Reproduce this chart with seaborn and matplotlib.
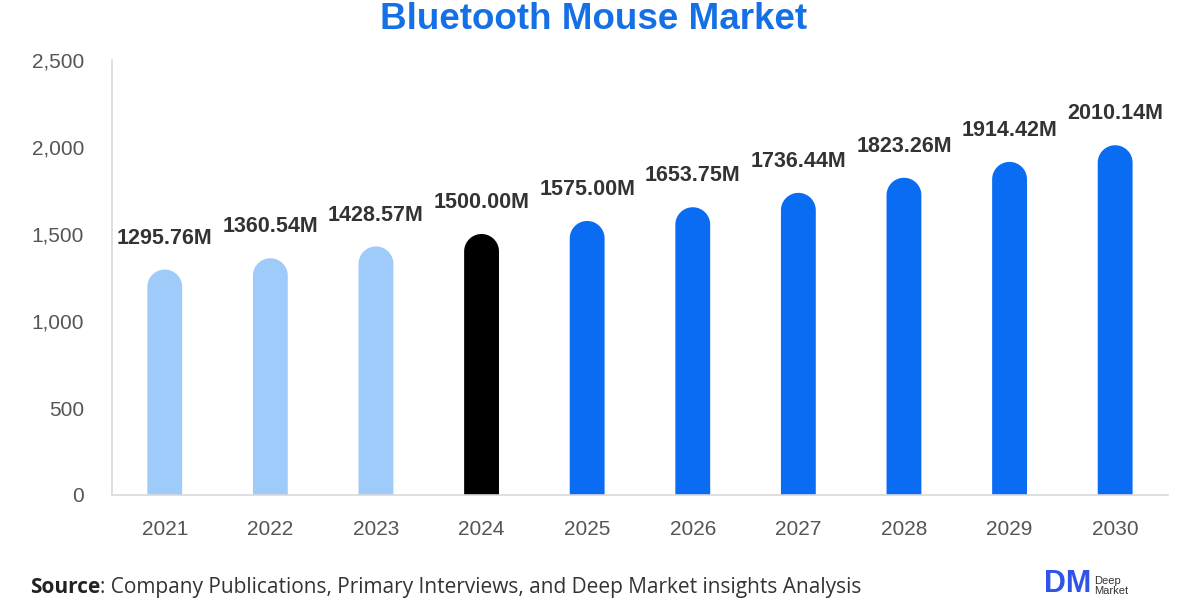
import numpy as np
import pandas as pd
import matplotlib
matplotlib.use("Agg")
import matplotlib.pyplot as plt
from matplotlib.patches import Polygon
from matplotlib.ticker import FuncFormatter
import seaborn as sns

# ---- data ----
years = ["2021", "2022", "2023", "2024", "2025", "2026", "2027", "2028", "2029", "2030"]
values = [1295.76, 1360.54, 1428.57, 1500.00, 1575.00, 1653.75, 1736.44, 1823.26, 1914.42, 2010.14]
value_labels = [f"{v:.2f}M" for v in values]

title = "Bluetooth Mouse Market"
source_head = "Source"
source_rest = ": Company Publications, Primary Interviews, and Deep Market insights Analysis"

# ---- style ----
light_blue = "#9FCBFA"
base_black = "#000000"
blue = "#0A6CF2"
bar_colors = [light_blue] * 3 + [base_black] + [blue] * 6

df = pd.DataFrame({"year": years, "value": values})

sns.set_style("white")
plt.rcParams["font.family"] = ["Liberation Sans", "DejaVu Sans"]

fig = plt.figure(figsize=(12, 6), dpi=100)
ax = fig.add_axes([0.0933, 0.175, 0.88, 0.725])

sns.barplot(data=df, x="year", y="value", hue="year", palette=bar_colors,
            width=0.33, legend=False, ax=ax, saturation=1)

ax.set_xlim(-0.5, len(years) - 0.5)
ax.set_ylim(0, 2500)
ax.set_yticks([0, 500, 1000, 1500, 2000, 2500])
ax.yaxis.set_major_formatter(FuncFormatter(lambda v, _: f"{int(v):,}"))
ax.set_xlabel("")
ax.set_ylabel("")

# rounded tops: swap each bar for a bar with a half-circle cap
p0 = ax.transData.transform((0, 0))
p1 = ax.transData.transform((1, 1))
px_x, px_y = p1[0] - p0[0], p1[1] - p0[1]
t = np.linspace(np.pi, 0, 40)
for p in list(ax.patches):
    x, w, h = p.get_x(), p.get_width(), p.get_height()
    rx = w / 2
    ry = rx * px_x / px_y
    cx = x + rx
    arc = np.column_stack([cx + rx * np.cos(t), h - ry + ry * np.sin(t)])
    verts = np.vstack([[x, 0], arc, [x + w, 0]])
    cap = Polygon(verts, closed=True, facecolor=p.get_facecolor(),
                  edgecolor="none", zorder=2)
    p.remove()
    ax.add_patch(cap)

# value labels
for i, (v, lab) in enumerate(zip(values, value_labels)):
    ax.annotate(lab, (i, v), xytext=(0, 15), textcoords="offset points",
                ha="center", va="bottom", fontsize=15.5, fontweight="bold",
                color="#333333")

for s in ["top", "right"]:
    ax.spines[s].set_visible(False)
for s in ["left", "bottom"]:
    ax.spines[s].set_color("#d9d9d9")
    ax.spines[s].set_linewidth(1.2)
ax.tick_params(axis="both", length=0, labelsize=15, labelcolor="#555555")
ax.tick_params(axis="y", pad=20)
ax.tick_params(axis="x", pad=18)

fig.text(0.495, 0.968, title, ha="center", va="center", fontsize=26.5,
         fontweight="bold", color="#1570E6")

# source line
fig.canvas.draw()
renderer = fig.canvas.get_renderer()
t1 = fig.text(0.025, 0.012, source_head, ha="left", va="baseline", fontsize=15,
              fontweight="bold", color="#222222", family=["Open Sans", "DejaVu Sans"])
bb = t1.get_window_extent(renderer=renderer)
fig.text(bb.x1 / fig.bbox.width, 0.012, source_rest, ha="left", va="baseline",
         fontsize=15, color="#333333", family=["Open Sans", "DejaVu Sans"])

# logo
fig.text(0.870, 0.002, "DM", ha="left", va="bottom", fontsize=22,
         fontweight="bold", color="#2F55E8")
fig.text(0.912, 0.006, "Deep\nMarket", ha="left", va="bottom", fontsize=8,
         color="#333333", linespacing=1.0)

fig.savefig("out.png", dpi=100)
